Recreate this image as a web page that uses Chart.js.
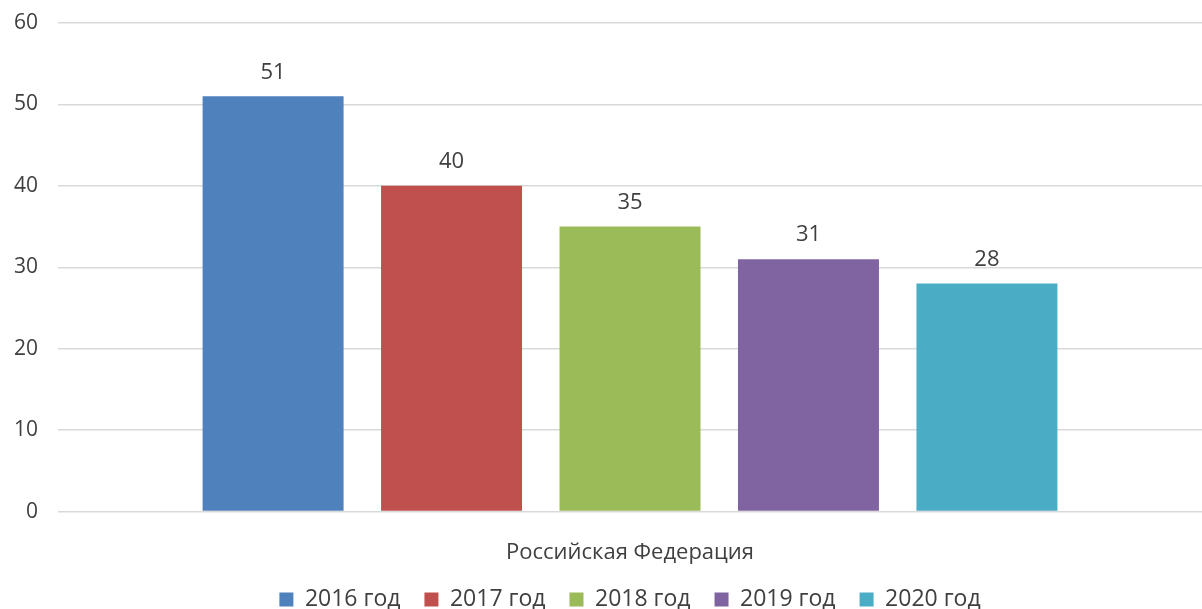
<!DOCTYPE html>
<html>
<head>
<meta charset="utf-8">
<script src="https://cdn.jsdelivr.net/npm/chart.js@4"></script>
<style>
  html, body { margin: 0; padding: 0; background: #fff; }
  #wrap { width: 1202px; height: 609px; }
</style>
</head>
<body>
<div id="wrap"><canvas id="barChart"></canvas></div>
<script>
// chart data
var categories = ['Российская Федерация'];
var seriesNames = ['2016 год', '2017 год', '2018 год', '2019 год', '2020 год'];
var seriesValues = [51, 40, 35, 31, 28];
var seriesColors = ['#4F81BD', '#C0504D', '#9BBB59', '#8064A2', '#4BACC6'];
var yTicks = [0, 10, 20, 30, 40, 50, 60];

var fontFamily = "'Open Sans', 'DejaVu Sans', sans-serif";

// draws value labels above each bar
var valueLabels = {
    id: 'valueLabels',
    afterDatasetsDraw: function(chart) {
        var ctx = chart.ctx;
        ctx.save();
        ctx.font = '22px ' + fontFamily;
        ctx.fillStyle = '#404040';
        ctx.textAlign = 'center';
        ctx.textBaseline = 'middle';
        chart.data.datasets.forEach(function(ds, i) {
            var meta = chart.getDatasetMeta(i);
            meta.data.forEach(function(bar, j) {
                ctx.fillText(ds.data[j], bar.x, bar.y - 24);
            });
        });
        ctx.restore();
    }
};

var datasets = seriesNames.map(function(name, i) {
    return {
        label: name,
        data: [seriesValues[i]],
        backgroundColor: seriesColors[i],
        borderWidth: 0,
        categoryPercentage: 0.78,
        barPercentage: 0.79
    };
});

var ctx = document.getElementById('barChart').getContext('2d');
var barChart = new Chart(ctx, {
    type: 'bar',
    data: { labels: categories, datasets: datasets },
    plugins: [valueLabels],
    options: {
        responsive: true,
        maintainAspectRatio: false,
        animation: false,
        layout: { padding: { top: 0, right: 0, left: -6, bottom: -12 } },
        plugins: {
            legend: {
                position: 'bottom',
                fullSize: false,
                labels: {
                    boxWidth: 14,
                    boxHeight: 14,
                    padding: 24,
                    color: '#404040',
                    font: { family: fontFamily, size: 23 }
                }
            },
            tooltip: { enabled: false }
        },
        scales: {
            x: {
                grid: { display: false },
                border: { display: false },
                ticks: { display: false },
                title: {
                    display: true,
                    text: categories[0],
                    color: '#404040',
                    padding: { top: 20, bottom: -2 },
                    font: { family: fontFamily, size: 22 }
                }
            },
            y: {
                min: 0,
                max: 60,
                afterBuildTicks: function(axis) {
                    axis.ticks = yTicks.map(function(v) { return { value: v }; });
                },
                afterFit: function(axis) { axis.paddingTop = 23; },
                grid: { color: '#d9d9d9', lineWidth: 1.5, drawTicks: false },
                border: { display: false },
                ticks: {
                    color: '#404040',
                    padding: 20,
                    font: { family: fontFamily, size: 21 }
                }
            }
        }
    }
});
</script>
</body>
</html>
